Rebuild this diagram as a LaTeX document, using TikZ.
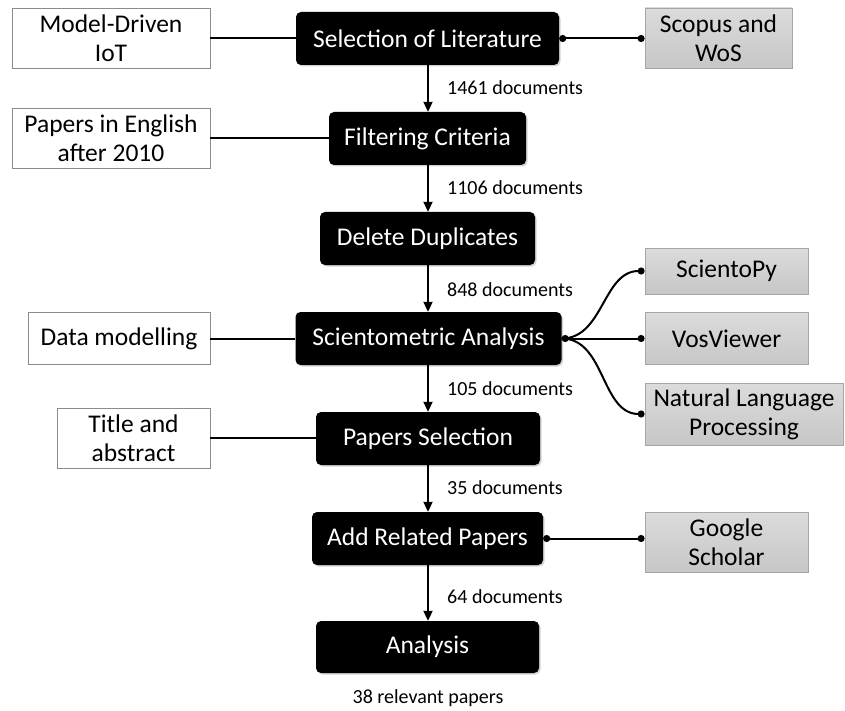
\documentclass[tikz,border=0pt]{standalone}
\usepackage{fontspec}
\setmainfont{Carlito}
\usetikzlibrary{arrows.meta,shadows}
\begin{document}
\begin{tikzpicture}[x=1pt,y=-1pt,
  blk/.style={rounded corners=5pt, fill=black, text=white, inner sep=0pt, minimum height=53pt,
    font=\fontsize{25.5}{28}\selectfont, drop shadow={shadow xshift=1.5pt,shadow yshift=-1.5pt,opacity=0.35}},
  wbox/.style={draw=black!45, line width=0.8pt, fill=white, inner sep=0pt, align=center,
    font=\fontsize{25.5}{29}\selectfont},
  gbox/.style={draw=black!35, line width=0.8pt, top color=black!14, bottom color=black!22, inner sep=0pt, align=center,
    font=\fontsize{25.5}{29}\selectfont},
  lbl/.style={anchor=west, inner sep=0pt, font=\fontsize{20}{22}\selectfont},
  flow/.style={line width=2pt, -{Triangle[length=10pt,width=9pt]}},
  link/.style={line width=2pt},
  dotb/.style={link, {Circle[length=7pt]}-{Circle[length=7pt]}},
  dote/.style={link, -{Circle[length=7pt]}}
]
\useasboundingbox (0,0) rectangle (845,711);
% main flow
\node[blk, minimum width=263pt] (sel) at (427.5,38.5) {Selection of Literature};
\node[blk, minimum width=197pt] (fil) at (427.5,138.5) {Filtering Criteria};
\node[blk, minimum width=215pt] (del) at (427.5,238.5) {Delete Duplicates};
\node[blk, minimum width=266pt] (sci) at (428.5,338.5) {Scientometric Analysis};
\node[blk, minimum width=224pt] (pap) at (428,438.5) {Papers Selection};
\node[blk, minimum width=231pt] (add) at (427.5,538.5) {Add Related Papers};
\node[blk, minimum width=223pt, minimum height=52pt] (ana) at (427.5,647) {Analysis};
% left boxes
\node[wbox, minimum width=198pt, minimum height=60pt] (mdi) at (111,38) {Model-Driven\\IoT};
\node[wbox, minimum width=198pt, minimum height=60pt] (pen) at (111,138) {Papers in English\\after 2010};
\node[wbox, minimum width=182pt, minimum height=52pt] (dmo) at (119,338.5) {Data modelling};
\node[wbox, minimum width=153pt, minimum height=60pt] (tab) at (133.5,438) {Title and\\abstract};
% right boxes
\node[gbox, minimum width=147pt, minimum height=60pt] (sco) at (718.5,38) {Scopus and\\WoS};
\node[gbox, minimum width=163pt, minimum height=46pt] (spy) at (726.5,271) {ScientoPy};
\node[gbox, minimum width=163pt, minimum height=52pt] (vos) at (726.5,338.5) {VosViewer};
\node[gbox, minimum width=198pt, minimum height=62pt] (nlp) at (744,414) {Natural Language\\Processing};
\node[gbox, minimum width=163pt, minimum height=60pt] (gsc) at (726.5,542) {Google\\Scholar};
% flow arrows
\draw[flow] (sel.south -| 428,0) -- (fil.north -| 428,0);
\draw[flow] (fil.south -| 428,0) -- (del.north -| 428,0);
\draw[flow] (del.south -| 428,0) -- (sci.north -| 428,0);
\draw[flow] (sci.south -| 428,0) -- (pap.north -| 428,0);
\draw[flow] (pap.south -| 428,0) -- (add.north -| 428,0);
\draw[flow] (add.south -| 428,0) -- (ana.north -| 428,0);
% labels
\node[lbl] (l1) at (447,88) {1461 documents};
\node[lbl] (l2) at (447,188) {1106 documents};
\node[lbl] (l3) at (447,290) {848 documents};
\node[lbl] (l4) at (447,389) {105 documents};
\node[lbl] (l5) at (447,488) {35 documents};
\node[lbl] (l6) at (447,597) {64 documents};
\node[lbl, anchor=center] (l7) at (428,698) {38 relevant papers};
% left links
\draw[link] (mdi.east) -- (sel.west |- mdi.east);
\draw[link] (pen.east) -- (fil.west |- pen.east);
\draw[link] (dmo.east) -- (sci.west |- dmo.east);
\draw[link] (tab.east) -- (pap.west |- tab.east);
% right links
\draw[dotb] (sel.east) -- (sco.west |- sel.east);
\draw[dotb] (sci.east) -- (vos.west);
\draw[dote] (sci.east) to[out=0,in=180] (spy.west);
\draw[dote] (sci.east) to[out=0,in=180] (nlp.west);
\draw[dotb] (add.east) -- (gsc.west |- add.east);
\end{tikzpicture}
\end{document}
